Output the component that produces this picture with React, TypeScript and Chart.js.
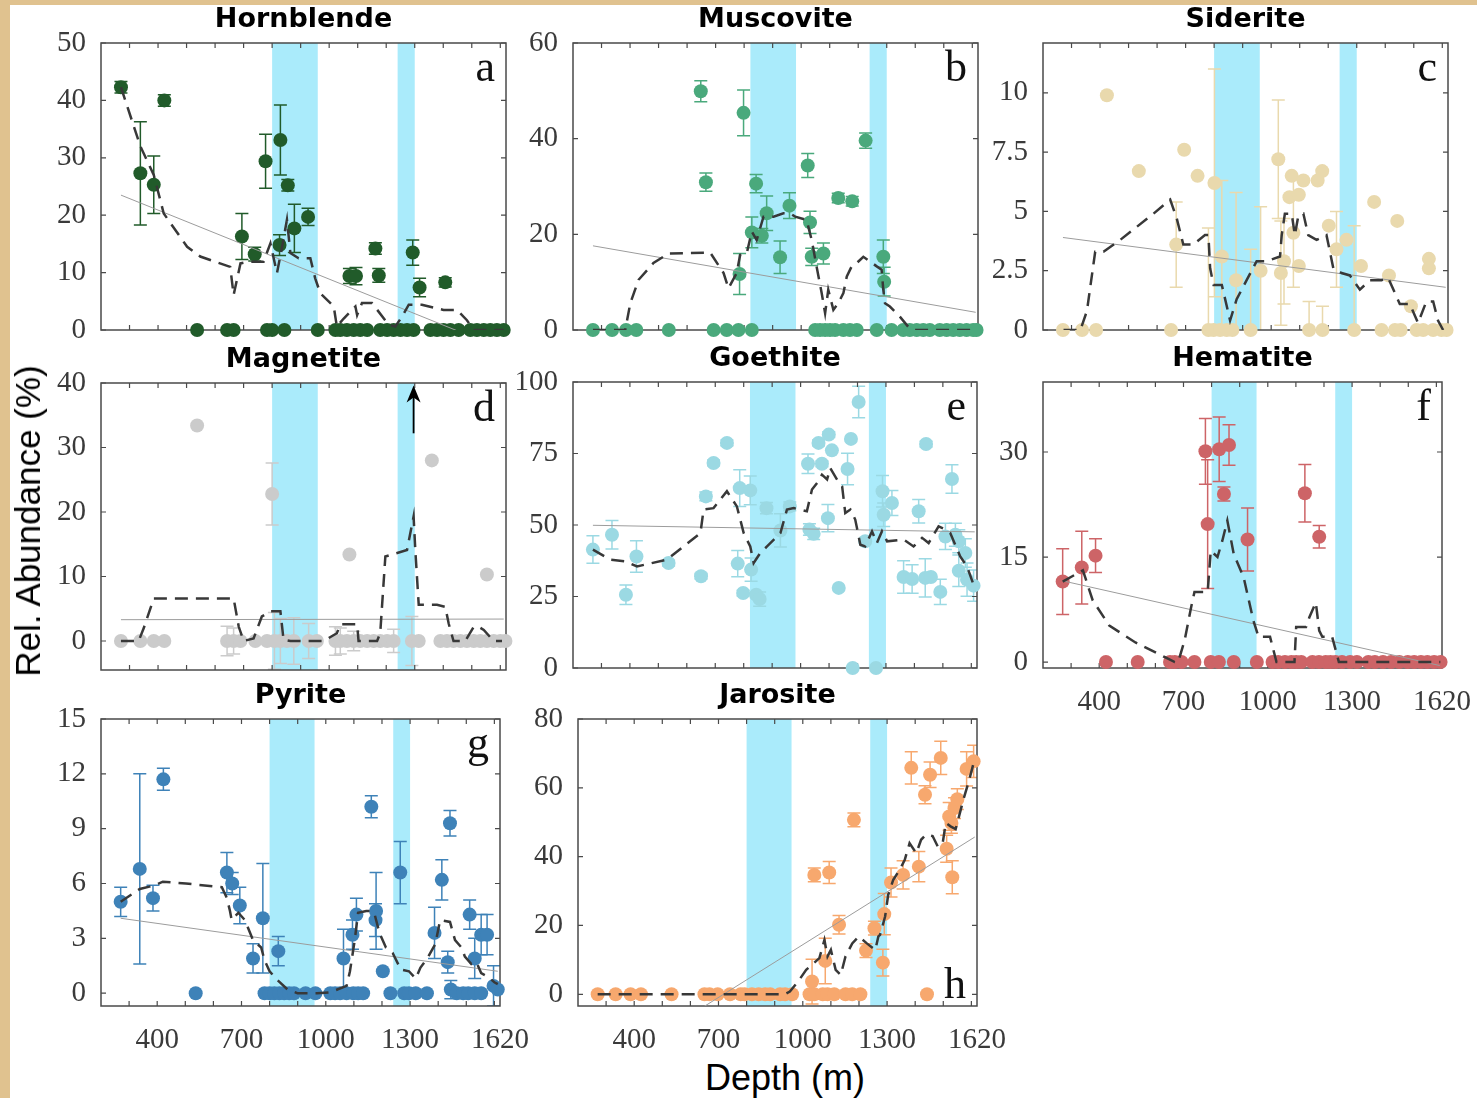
import React, { useEffect, useRef } from 'react';
import { Chart, registerables } from 'chart.js';
Chart.register(...registerables);

// ---------- shared axis data ----------
const X_MIN = 200;
const X_MAX = 1620;
const xTickLabels = [400, 700, 1000, 1300, 1620];
const xMinorTicks = [300, 400, 500, 600, 700, 800, 900, 1000, 1100, 1200, 1300, 1400, 1500, 1600];
const bandsMain = [[800, 960], [1240, 1300]];
const bandsShift = [[822, 982], [1240, 1300]];

// ---------- a: Hornblende ----------
const hbDepth = [270, 338, 385, 422, 537, 642, 665, 694, 739, 777, 782, 800, 826, 829, 843, 855, 878, 926, 960, 1022, 1039, 1062, 1071, 1086, 1094, 1109, 1133, 1162, 1174, 1179, 1203, 1226, 1250, 1273, 1293, 1296, 1317, 1355, 1378, 1401, 1407, 1425, 1454, 1495, 1518, 1542, 1565, 1588, 1612];
const hbValue = [42.3, 27.3, 25.3, 40.0, 0, 0, 0, 16.3, 13.2, 29.4, 0, 0, 14.8, 33.1, 0, 25.2, 17.7, 19.7, 0, 0, 0, 0, 9.4, 0, 9.4, 0, 0, 14.2, 9.5, 0, 0, 0, 0, 0, 13.5, 0, 7.4, 0, 0, 0, 8.3, 0, 0, 0, 0, 0, 0, 0, 0];
const hbErr = [1, 9, 5, 1, 0, 0, 0, 4, 1.2, 4.7, 0, 0, 1.8, 6.1, 0, 1, 4.2, 1.5, 0, 0, 0, 0, 1.3, 0, 1.5, 0, 0, 1, 1.2, 0, 0, 0, 0, 0, 2.2, 0, 1.6, 0, 0, 0, 0.8, 0, 0, 0, 0, 0, 0, 0, 0];
const hbMaDepth = [270, 338, 385, 420, 502, 548, 653, 665, 689, 718, 770, 794, 817, 835, 852, 864, 893, 934, 951, 969, 1016, 1027, 1051, 1092, 1098, 1115, 1150, 1209, 1232, 1255, 1279, 1325, 1401, 1448, 1483, 1507, 1612];
const hbMaValue = [42.3, 32.0, 27.0, 20.3, 14.5, 12.8, 11.0, 6.1, 11.6, 11.9, 11.9, 15.1, 9.9, 14.5, 19.2, 13.4, 12.5, 12.5, 9.0, 6.4, 4.1, 0.6, 2.0, 4.1, 2.6, 4.7, 4.7, 0.9, 0.6, 2.3, 4.4, 4.4, 3.5, 3.5, 1.7, 0, 0];
const hbTrendDepth = [270, 1612];
const hbTrendValue = [23.5, -3.4];
const hbYTicks = [0, 10, 20, 30, 40, 50];

// ---------- b: Muscovite ----------
const msDepth = [270, 337, 386, 422, 536, 648, 666, 693, 739, 780, 784, 798, 827, 827, 842, 862, 879, 926, 959, 1023, 1031, 1037, 1049, 1066, 1078, 1084, 1101, 1119, 1130, 1148, 1171, 1179, 1195, 1226, 1265, 1288, 1291, 1317, 1358, 1381, 1405, 1428, 1451, 1486, 1510, 1533, 1556, 1580, 1603, 1615];
const msValue = [0, 0, 0, 0, 0, 49.9, 30.9, 0, 0, 0, 11.7, 45.4, 0, 20.4, 30.6, 19.7, 24.4, 15.2, 26.0, 34.4, 22.5, 15.3, 0, 0, 16.0, 0, 0, 0, 27.6, 0, 0, 26.9, 0, 39.6, 0, 15.3, 10.1, 0, 0, 0, 0, 0, 0, 0, 0, 0, 0, 0, 0, 0];
const msErr = [0, 0, 0, 0, 0, 2.2, 1.9, 0, 0, 0, 4.3, 4.8, 0, 3.2, 1.9, 1.5, 3.6, 3.4, 2.7, 2.5, 2.3, 1.8, 0, 0, 2.2, 0, 0, 0, 1, 0, 0, 1, 0, 1.6, 0, 3.5, 3, 0, 0, 0, 0, 0, 0, 0, 0, 0, 0, 0, 0, 0];
const msMaDepth = [270, 331, 383, 401, 430, 482, 535, 681, 728, 745, 774, 786, 809, 827, 844, 868, 903, 938, 961, 979, 1019, 1037, 1054, 1072, 1084, 1095, 1113, 1130, 1148, 1160, 1177, 1195, 1218, 1235, 1265, 1282, 1288, 1294, 1311, 1346, 1375, 1393, 1615];
const msMaValue = [0, 0, 0, 5.6, 10.5, 14.0, 16.0, 16.2, 11.9, 8.7, 11.9, 15.7, 16.0, 20.6, 18.8, 23.7, 23.7, 24.4, 24.4, 23.7, 23.0, 18.8, 13.3, 7.7, 3.5, 8.4, 4.2, 5.6, 7.7, 11.2, 13.3, 14.0, 15.3, 14.6, 13.3, 12.6, 8.4, 5.6, 4.9, 2.8, 0.7, 0, 0];
const msTrendDepth = [270, 1612];
const msTrendValue = [17.6, 3.7];
const msYTicks = [0, 20, 40, 60];

// ---------- c: Siderite ----------
const sdDepth = [270, 337, 386, 424, 536, 649, 667, 695, 742, 780, 798, 801, 821, 827, 844, 864, 877, 928, 963, 1025, 1034, 1045, 1064, 1072, 1078, 1097, 1097, 1113, 1133, 1163, 1179, 1180, 1202, 1229, 1264, 1291, 1315, 1361, 1387, 1413, 1434, 1442, 1454, 1490, 1510, 1533, 1553, 1553, 1568, 1597, 1615];
const sdValue = [0, 0, 0, 9.9, 6.7, 0, 3.6, 7.6, 6.5, 0, 0, 6.2, 0, 3.1, 0, 0, 2.1, 0, 2.5, 7.2, 2.4, 2.9, 5.6, 6.5, 4.1, 5.7, 2.7, 6.3, 0, 6.3, 6.7, 0, 4.4, 3.4, 3.8, 0, 2.7, 5.4, 0, 2.3, 0, 4.6, 0, 1.0, 0, 0, 3.0, 2.6, 0, 0, 0];
const sdErr = [0, 0, 0, 0, 0, 0, 1.8, 0, 0, 4.3, 0, 4.8, 0, 3.2, 0, 0, 3.7, 3.4, 2.7, 2.5, 2.2, 1.8, 0, 0, 2.3, 0, 0, 0, 1.2, 0, 0, 1.0, 0, 1.6, 0, 4.4, 0, 0, 0, 0, 0, 0, 0, 0, 0, 0, 0, 0, 0, 0, 0];
const sdMaDepth = [272, 331, 354, 383, 412, 471, 587, 646, 669, 692, 727, 768, 780, 786, 798, 827, 856, 879, 914, 949, 984, 1031, 1037, 1048, 1072, 1083, 1095, 1113, 1130, 1159, 1194, 1218, 1247, 1276, 1311, 1346, 1387, 1410, 1451, 1486, 1515, 1544, 1568, 1585, 1603];
const sdMaValue = [0, 0, 0.8, 3.3, 3.3, 3.8, 4.9, 5.5, 4.7, 3.6, 3.6, 4.0, 4.0, 2.6, 1.9, 1.9, 0.4, 1.3, 2.1, 2.9, 2.9, 3.1, 4.0, 4.9, 4.9, 4.0, 4.8, 4.9, 4.0, 3.8, 4.0, 2.6, 2.4, 2.3, 1.7, 2.1, 2.1, 2.2, 1.1, 1.1, 0.3, 1.2, 1.2, 0.4, 0];
const sdTrendDepth = [270, 1612];
const sdTrendValue = [3.9, 1.8];
const sdYTicks = [0, 2.5, 5, 7.5, 10];

// ---------- d: Magnetite ----------
const mgDepth = [270, 338, 385, 422, 537, 642, 665, 689, 741, 782, 800, 808, 829, 852, 876, 928, 957, 1022, 1039, 1062, 1071, 1086, 1109, 1133, 1156, 1179, 1203, 1226, 1290, 1314, 1360, 1390, 1413, 1436, 1460, 1483, 1507, 1530, 1553, 1553, 1577, 1600, 1618];
const mgValue = [0, 0, 0, 0, 33.4, 0, 0, 0, 0, 0, 22.8, 0, 0, 0, 0, 0, 0, 0, 0, 0, 13.4, 0, 0, 0, 0, 0, 0, 0, 0, 0, 28.0, 0, 0, 0, 0, 0, 0, 0, 10.3, 0, 0, 0, 0];
const mgErr = [0, 0, 0, 0, 0, 2.3, 2.0, 0, 0, 0, 4.8, 4.4, 3.5, 0, 3.6, 2.7, 0, 2.2, 2.0, 0, 0, 1.5, 0, 0, 0, 0, 0, 1.8, 3.8, 0, 0, 0, 0, 0, 0, 0, 0, 0, 0, 0, 0, 0, 0];
const mgMaDepth = [270, 332, 350, 385, 665, 683, 700, 735, 764, 794, 829, 840, 864, 981, 1027, 1039, 1098, 1103, 1168, 1179, 1197, 1273, 1296, 1302, 1314, 1378, 1407, 1419, 1436, 1477, 1507, 1524, 1542, 1577, 1606];
const mgMaValue = [0, 0, 2.0, 6.6, 6.6, 2.2, 0, 0.4, 3.8, 4.6, 4.6, 0.2, 0, 0, 1.2, 2.6, 2.6, 0, 0, 1.2, 13.1, 14.1, 19.3, 14.1, 5.6, 5.6, 5.3, 2.7, 0, 0, 2.2, 2.2, 1.7, 0, 0];
const mgTrendDepth = [270, 1612];
const mgTrendValue = [3.3, 3.4];
const mgYTicks = [0, 10, 20, 30, 40];
const mgArrowDepth = 1296;
const mgArrowValue = [32.2, 39.6];

// ---------- e: Goethite ----------
const gtDepth = [270, 337, 386, 423, 536, 650, 667, 694, 741, 786, 779, 798, 823, 826, 844, 856, 880, 929, 962, 1026, 1031, 1046, 1063, 1075, 1099, 1096, 1110, 1134, 1165, 1177, 1183, 1204, 1227, 1265, 1288, 1292, 1321, 1362, 1392, 1415, 1438, 1458, 1441, 1491, 1509, 1532, 1544, 1556, 1556, 1579, 1585, 1608];
const gtValue = [41.4, 46.6, 25.6, 39.0, 36.7, 32.1, 60.0, 71.7, 78.7, 62.9, 36.5, 26.2, 62.1, 34.4, 25.6, 24.1, 55.9, 48.1, 56.5, 71.4, 48.4, 46.9, 78.7, 71.4, 81.6, 52.4, 76.1, 28.0, 69.6, 80.1, 0, 93.0, 44.3, 0, 61.8, 53.6, 57.7, 31.8, 31.1, 54.8, 31.5, 31.8, 78.3, 26.6, 46.0, 66.1, 46.6, 44.3, 34.0, 40.2, 30.9, 28.8];
const gtErr = [4.8, 5, 3.4, 5.5, 1, 1, 1.5, 1, 1, 6.4, 4.6, 1, 5, 4.1, 1, 2.5, 2, 5.8, 1.5, 3.4, 2, 2, 1, 1, 1, 4.8, 0, 0, 5.5, 0, 0, 5.5, 0, 0, 5.5, 4.1, 4.4, 5.7, 5, 4.1, 6.7, 0, 1, 4.4, 4.6, 5, 4, 4, 5.5, 5, 5.8, 5.5];
const gtMaDepth = [270, 331, 384, 425, 530, 648, 659, 694, 741, 776, 800, 823, 835, 858, 882, 929, 952, 976, 1022, 1040, 1058, 1075, 1093, 1104, 1128, 1146, 1157, 1175, 1192, 1210, 1227, 1251, 1268, 1286, 1304, 1362, 1397, 1427, 1450, 1485, 1509, 1526, 1561, 1585, 1608];
const gtMaValue = [41.4, 37.9, 37.3, 35.5, 37.9, 47.2, 55.4, 55.9, 61.8, 56.5, 47.2, 42.5, 36.7, 40.2, 42.5, 47.2, 55.4, 55.9, 54.8, 62.4, 64.7, 67.6, 65.9, 69.9, 65.9, 63.5, 54.2, 55.4, 51.9, 43.1, 42.5, 47.8, 43.7, 47.8, 44.3, 44.9, 42.5, 45.5, 43.7, 49.5, 48.4, 47.2, 39.0, 35.5, 29.1];
const gtTrendDepth = [270, 1612];
const gtTrendValue = [49.9, 47.6];
const gtYTicks = [0, 25, 50, 75, 100];

// ---------- f: Hematite ----------
const hmDepth = [270, 338, 387, 424, 537, 652, 669, 693, 739, 778, 786, 797, 826, 827, 844, 862, 879, 928, 961, 1017, 1037, 1061, 1084, 1101, 1119, 1132, 1159, 1182, 1183, 1206, 1223, 1241, 1264, 1293, 1317, 1358, 1381, 1410, 1439, 1468, 1498, 1521, 1545, 1568, 1592, 1615];
const hmValue = [11.5, 13.5, 15.2, 0, 0, 0, 0, 0, 0, 30.1, 19.7, 0, 0, 30.4, 24.0, 31.0, 0, 17.5, 0, 0, 0, 0, 0, 0, 0, 24.1, 0, 0, 17.9, 0, 0, 0, 0, 0, 0, 0, 0, 0, 0, 0, 0, 0, 0, 0, 0, 0];
const hmErr = [4.7, 5.2, 2.4, 0, 0, 0, 0, 0, 0, 4.7, 9.2, 0, 0, 4.6, 1, 2.9, 0, 4.5, 0, 0, 0, 0, 0, 0, 0, 4.1, 0, 0, 1.6, 0, 0, 0, 0, 0, 0, 0, 0, 0, 0, 0, 0, 0, 0, 0, 0, 0];
const hmMaDepth = [270, 342, 377, 436, 529, 634, 669, 681, 704, 727, 739, 786, 797, 821, 838, 856, 879, 914, 949, 967, 1008, 1031, 1095, 1101, 1136, 1148, 1171, 1183, 1194, 1229, 1253, 1614];
const hmMaValue = [11.5, 13.1, 8.8, 5.2, 2.8, 0.7, 0, 0, 3.1, 7.8, 10.0, 10.0, 15.9, 15.0, 17.3, 20.2, 15.4, 12.1, 5.9, 3.6, 3.6, 0, 0, 5.0, 5.0, 6.4, 8.5, 4.5, 3.6, 3.6, 0, 0];
const hmTrendDepth = [270, 1612];
const hmTrendValue = [11.6, -0.5];
const hmYTicks = [0, 15, 30];

// ---------- g: Pyrite ----------
const pyDepth = [270, 338, 385, 422, 537, 648, 667, 694, 741, 776, 782, 800, 817, 831, 835, 852, 870, 887, 928, 963, 1016, 1033, 1051, 1063, 1074, 1095, 1098, 1109, 1115, 1133, 1162, 1177, 1179, 1203, 1230, 1265, 1279, 1296, 1320, 1360, 1387, 1413, 1434, 1442, 1445, 1466, 1489, 1507, 1512, 1530, 1530, 1553, 1553, 1574, 1597, 1612];
const pyValue = [5.0, 6.8, 5.2, 11.7, 0, 6.6, 6.0, 4.8, 1.9, 4.1, 0, 0, 0, 2.3, 0, 0, 0, 0, 0, 0, 0, 0, 0, 1.9, 0, 3.2, 0, 4.3, 0, 0, 10.2, 4.0, 4.5, 1.2, 0, 6.6, 0, 0, 0, 0, 3.3, 6.2, 1.7, 9.3, 0.2, 0, 0, 0, 4.3, 1.9, 0, 3.2, 0, 3.2, 0.4, 0.2];
const pyErr = [0.8, 5.2, 0.7, 0.6, 0, 1.1, 0.6, 1, 0.8, 3, 0, 0, 0, 0.8, 0, 0, 0, 0, 0, 0, 0, 0, 0, 1.6, 0, 0.8, 0, 0.9, 0, 0, 0.6, 0.9, 2.1, 0, 0, 1.7, 0, 0, 0, 0, 1.4, 1.1, 0.6, 0.7, 0.5, 0, 0, 0, 0.8, 1.1, 0, 1.1, 0, 1.1, 1.1, 0];
const pyMaDepth = [270, 338, 391, 420, 502, 630, 648, 659, 665, 689, 712, 741, 770, 782, 800, 829, 864, 899, 969, 1016, 1074, 1086, 1103, 1115, 1144, 1162, 1174, 1191, 1214, 1238, 1267, 1296, 1320, 1337, 1361, 1390, 1407, 1442, 1460, 1483, 1495, 1518, 1536, 1553, 1577, 1600, 1612];
const pyMaValue = [5.0, 5.7, 5.9, 6.1, 6.0, 5.8, 5.2, 4.5, 4.0, 4.4, 4.0, 2.9, 2.5, 1.8, 1.2, 0.7, 0.2, 0, 0, 0.05, 0.4, 1.2, 2.9, 4.4, 4.5, 4.5, 4.3, 3.3, 2.5, 2.2, 1.3, 1.2, 0.8, 1.4, 1.9, 2.7, 4.0, 3.9, 2.9, 2.5, 2.0, 1.6, 1.7, 1.1, 0.9, 0.6, 0.5];
const pyTrendDepth = [270, 1612];
const pyTrendValue = [4.1, 1.2];
const pyYTicks = [0, 3, 6, 9, 12, 15];

// ---------- h: Jarosite ----------
const jrDepth = [270, 334, 387, 424, 533, 650, 668, 697, 741, 779, 793, 819, 843, 866, 884, 919, 937, 962, 1024, 1033, 1041, 1041, 1071, 1080, 1088, 1094, 1112, 1129, 1152, 1176, 1182, 1205, 1225, 1255, 1285, 1290, 1314, 1357, 1386, 1413, 1435, 1442, 1453, 1491, 1512, 1521, 1529, 1532, 1540, 1550, 1583, 1608];
const jrValue = [0, 0, 0, 0, 0, 0, 0, 0, 0, 0, 0, 0, 0, 0, 0, 0, 0, 0, 0, 3.7, 34.7, 0, 0, 9.7, 0, 35.4, 0, 20.2, 0, 0, 50.7, 0, 12.7, 19.2, 9.2, 23.3, 32.5, 34.7, 65.8, 37.1, 58.0, 0, 63.8, 68.7, 42.3, 51.7, 49.8, 34.0, 54.1, 56.7, 65.5, 67.7];
const jrErr = [0, 0, 0, 0, 0, 0, 0, 0, 0, 0, 0, 0, 0, 0, 0, 0, 0, 0, 0, 6.5, 2, 0, 0, 6.6, 0, 3.2, 0, 2.7, 0, 0, 2, 0, 2, 2, 3.9, 6, 4.2, 4.1, 4.7, 4.4, 2.6, 0, 3.7, 4.8, 3.9, 4, 3, 4.8, 3, 3, 5, 4.7];
const jrMaDepth = [270, 936, 954, 983, 1012, 1059, 1077, 1088, 1100, 1117, 1135, 1152, 1176, 1199, 1228, 1258, 1269, 1275, 1293, 1304, 1322, 1345, 1363, 1380, 1404, 1421, 1439, 1462, 1480, 1497, 1509, 1526, 1544, 1556, 1573, 1591, 1608];
const jrMaValue = [0, 0, 0.8, 3.7, 7.1, 10.5, 15.8, 11.0, 12.9, 7.1, 5.6, 11.0, 14.8, 16.8, 14.8, 12.9, 16.8, 17.3, 22.6, 28.9, 33.3, 36.2, 39.1, 43.9, 41.0, 44.9, 46.4, 46.0, 43.0, 43.5, 49.8, 48.8, 48.0, 51.7, 57.0, 61.9, 67.2];
const jrTrendDepth = [270, 1612];
const jrTrendValue = [-22.9, 45.7];
const jrYTicks = [0, 20, 40, 60, 80];

// ---------- styles ----------
const BAND_COLOR = '#aaebfb';
const MA_COLOR = '#383838';
const TREND_COLOR = '#9c9c9c';
const BOX_COLOR = '#4a4a4a';
const TICK_FONT = { family: '"Liberation Serif", "DejaVu Serif", serif', size: 29 };
const TICK_COLOR = '#3a3a3a';
const Y_AXIS_W = 70;
const TOP_SPACE = 45;
const RIGHT_SPACE = 40;

type PanelCfg = {
  title: string; letter: string; letterBottom?: boolean; color: string;
  depth: number[]; value: number[]; err: number[];
  maDepth: number[]; maValue: number[];
  trendDepth: number[]; trendValue: number[];
  yMin: number; yMax: number; yTicks: number[];
  bands: number[][]; showX: boolean;
  rect: { L: number; T: number; R: number; B: number };
  arrow?: { depth: number; values: number[] };
};

const panels: PanelCfg[] = [
  { title: 'Hornblende', letter: 'a', color: '#215b2a', depth: hbDepth, value: hbValue, err: hbErr, maDepth: hbMaDepth, maValue: hbMaValue, trendDepth: hbTrendDepth, trendValue: hbTrendValue, yMin: 0, yMax: 50, yTicks: hbYTicks, bands: bandsMain, showX: false, rect: { L: 101, T: 43, R: 506, B: 330 } },
  { title: 'Muscovite', letter: 'b', color: '#4aa97c', depth: msDepth, value: msValue, err: msErr, maDepth: msMaDepth, maValue: msMaValue, trendDepth: msTrendDepth, trendValue: msTrendValue, yMin: 0, yMax: 60, yTicks: msYTicks, bands: bandsShift, showX: false, rect: { L: 573, T: 43, R: 978, B: 330 } },
  { title: 'Siderite', letter: 'c', color: '#e9d9ad', depth: sdDepth, value: sdValue, err: sdErr, maDepth: sdMaDepth, maValue: sdMaValue, trendDepth: sdTrendDepth, trendValue: sdTrendValue, yMin: 0, yMax: 12.1, yTicks: sdYTicks, bands: bandsMain, showX: false, rect: { L: 1043, T: 43, R: 1448, B: 330 } },
  { title: 'Magnetite', letter: 'd', color: '#cbcbcb', depth: mgDepth, value: mgValue, err: mgErr, maDepth: mgMaDepth, maValue: mgMaValue, trendDepth: mgTrendDepth, trendValue: mgTrendValue, yMin: -4.5, yMax: 40, yTicks: mgYTicks, bands: bandsMain, showX: false, rect: { L: 101, T: 383, R: 506, B: 670 }, arrow: { depth: mgArrowDepth, values: mgArrowValue } },
  { title: 'Goethite', letter: 'e', color: '#9bd9e3', depth: gtDepth, value: gtValue, err: gtErr, maDepth: gtMaDepth, maValue: gtMaValue, trendDepth: gtTrendDepth, trendValue: gtTrendValue, yMin: 0, yMax: 100, yTicks: gtYTicks, bands: bandsShift, showX: false, rect: { L: 573, T: 382, R: 977, B: 668 } },
  { title: 'Hematite', letter: 'f', color: '#cd6467', depth: hmDepth, value: hmValue, err: hmErr, maDepth: hmMaDepth, maValue: hmMaValue, trendDepth: hmTrendDepth, trendValue: hmTrendValue, yMin: -0.85, yMax: 40, yTicks: hmYTicks, bands: bandsMain, showX: true, rect: { L: 1043, T: 382, R: 1448, B: 668 } },
  { title: 'Pyrite', letter: 'g', color: '#3e82b8', depth: pyDepth, value: pyValue, err: pyErr, maDepth: pyMaDepth, maValue: pyMaValue, trendDepth: pyTrendDepth, trendValue: pyTrendValue, yMin: -0.7, yMax: 15, yTicks: pyYTicks, bands: bandsMain, showX: true, rect: { L: 101, T: 719, R: 506, B: 1006 } },
  { title: 'Jarosite', letter: 'h', letterBottom: true, color: '#f7a86e', depth: jrDepth, value: jrValue, err: jrErr, maDepth: jrMaDepth, maValue: jrMaValue, trendDepth: jrTrendDepth, trendValue: jrTrendValue, yMin: -3.4, yMax: 80, yTicks: jrYTicks, bands: bandsMain, showX: true, rect: { L: 578, T: 719, R: 983, B: 1006 } },
];

const decorPlugin = {
  id: 'panelDecor',
  beforeDatasetsDraw(chart: any, _args: any, opts: any) {
    const p: PanelCfg = opts.panel;
    const { ctx, chartArea: ca } = chart;
    const x = chart.scales.x, y = chart.scales.y;
    ctx.save();
    ctx.fillStyle = BAND_COLOR;
    for (const [a, b] of p.bands) {
      const x0 = x.getPixelForValue(a), x1 = x.getPixelForValue(b);
      ctx.fillRect(x0, ca.top, x1 - x0, ca.bottom - ca.top);
    }
    ctx.save();
    ctx.beginPath();
    ctx.rect(ca.left, ca.top, ca.right - ca.left, ca.bottom - ca.top);
    ctx.clip();
    ctx.strokeStyle = p.color;
    ctx.lineWidth = 1.5;
    p.depth.forEach((d, i) => {
      const e = p.err[i];
      if (!e) return;
      const px = x.getPixelForValue(d);
      const y0 = y.getPixelForValue(p.value[i] - e);
      const y1 = y.getPixelForValue(p.value[i] + e);
      ctx.beginPath();
      ctx.moveTo(px, y0); ctx.lineTo(px, y1);
      ctx.moveTo(px - 6.5, y0); ctx.lineTo(px + 6.5, y0);
      ctx.moveTo(px - 6.5, y1); ctx.lineTo(px + 6.5, y1);
      ctx.stroke();
    });
    ctx.restore();
    ctx.strokeStyle = BOX_COLOR;
    ctx.lineWidth = 1.5;
    ctx.strokeRect(ca.left, ca.top, ca.right - ca.left, ca.bottom - ca.top);
    ctx.lineWidth = 1.2;
    ctx.beginPath();
    for (const t of xMinorTicks) {
      const px = x.getPixelForValue(t);
      ctx.moveTo(px, ca.bottom); ctx.lineTo(px, ca.bottom - 5);
      ctx.moveTo(px, ca.top); ctx.lineTo(px, ca.top + 5);
    }
    for (const t of p.yTicks) {
      const py = y.getPixelForValue(t);
      ctx.moveTo(ca.left, py); ctx.lineTo(ca.left + 5, py);
      ctx.moveTo(ca.right, py); ctx.lineTo(ca.right - 5, py);
    }
    ctx.stroke();
    ctx.restore();
  },
  afterDraw(chart: any, _args: any, opts: any) {
    const p: PanelCfg = opts.panel;
    const { ctx, chartArea: ca } = chart;
    const x = chart.scales.x, y = chart.scales.y;
    ctx.save();
    ctx.fillStyle = '#000';
    ctx.font = 'bold 27px "DejaVu Sans", sans-serif';
    ctx.textAlign = 'center';
    ctx.textBaseline = 'middle';
    ctx.fillText(p.title, (ca.left + ca.right) / 2, ca.top - 23);
    ctx.font = '44px "Liberation Serif", serif';
    ctx.textAlign = 'right';
    ctx.textBaseline = 'alphabetic';
    ctx.fillStyle = '#111';
    ctx.fillText(p.letter, ca.right - 11, p.letterBottom ? ca.bottom - 8 : ca.top + 38);
    if (p.arrow) {
      const px = x.getPixelForValue(p.arrow.depth);
      const yA = y.getPixelForValue(p.arrow.values[0]);
      const yB = y.getPixelForValue(p.arrow.values[1]);
      ctx.strokeStyle = '#000';
      ctx.lineWidth = 1.8;
      ctx.beginPath();
      ctx.moveTo(px, yA); ctx.lineTo(px, yB + 10);
      ctx.stroke();
      ctx.beginPath();
      ctx.moveTo(px, yB);
      ctx.lineTo(px - 7, yB + 17);
      ctx.lineTo(px, yB + 12);
      ctx.lineTo(px + 7, yB + 17);
      ctx.closePath();
      ctx.fillStyle = '#000';
      ctx.fill();
    }
    ctx.restore();
  },
};

function Panel({ p }: { p: PanelCfg }) {
  const ref = useRef<HTMLCanvasElement | null>(null);
  const plotW = p.rect.R - p.rect.L;
  const plotH = p.rect.B - p.rect.T;
  const xH = p.showX ? 50 : 40;
  const W = Y_AXIS_W + plotW + RIGHT_SPACE;
  const H = TOP_SPACE + plotH + xH;

  useEffect(() => {
    if (!ref.current) return;
    const chart = new Chart(ref.current, {
      type: 'scatter',
      data: {
        datasets: [
          {
            type: 'line',
            data: p.maDepth.map((d, i) => ({ x: d, y: p.maValue[i] })),
            borderColor: MA_COLOR,
            borderWidth: 2.5,
            borderDash: [13, 8],
            pointRadius: 0,
            tension: 0,
            fill: false,
            order: 1,
          } as any,
          {
            type: 'line',
            data: p.trendDepth.map((d, i) => ({ x: d, y: p.trendValue[i] })),
            borderColor: TREND_COLOR,
            borderWidth: 1,
            pointRadius: 0,
            tension: 0,
            fill: false,
            order: 2,
          } as any,
          {
            type: 'scatter',
            data: p.depth.map((d, i) => ({ x: d, y: p.value[i] })),
            backgroundColor: p.color,
            pointBackgroundColor: p.color,
            pointBorderWidth: 0,
            pointRadius: 7,
            pointHoverRadius: 7,
            clip: false as any,
            order: 3,
          } as any,
        ],
      },
      options: {
        animation: false,
        responsive: false,
        events: [],
        layout: { padding: { top: TOP_SPACE, right: RIGHT_SPACE, left: 0, bottom: 0 }, autoPadding: false } as any,
        plugins: {
          legend: { display: false },
          tooltip: { enabled: false },
          title: { display: false },
          panelDecor: { panel: p },
        } as any,
        scales: {
          x: {
            type: 'linear',
            min: X_MIN,
            max: X_MAX,
            grid: { display: false, drawTicks: false },
            border: { display: false },
            ticks: {
              display: p.showX,
              font: TICK_FONT,
              color: TICK_COLOR,
              padding: 17,
              autoSkip: false,
              maxRotation: 0,
              minRotation: 0,
              callback: (v: any) => String(v),
            },
            afterBuildTicks: (s: any) => { s.ticks = xTickLabels.map((v) => ({ value: v })); },
            afterFit: (s: any) => { s.height = xH; },
          },
          y: {
            type: 'linear',
            min: p.yMin,
            max: p.yMax,
            grid: { display: false, drawTicks: false },
            border: { display: false },
            ticks: {
              font: TICK_FONT,
              color: TICK_COLOR,
              padding: 15,
              autoSkip: false,
              callback: (v: any) => String(v),
            },
            afterBuildTicks: (s: any) => { s.ticks = p.yTicks.map((v) => ({ value: v })); },
            afterFit: (s: any) => { s.width = Y_AXIS_W; },
          },
        },
      } as any,
      plugins: [decorPlugin as any],
    });
    return () => chart.destroy();
  }, []);

  return (
    <canvas
      ref={ref}
      width={W}
      height={H}
      style={{ position: 'absolute', left: p.rect.L - Y_AXIS_W, top: p.rect.T - TOP_SPACE, width: W, height: H }}
    />
  );
}

export default function App() {
  return (
    <div style={{ position: 'absolute', left: 0, top: 0, width: 1477, height: 1098, background: '#e0c28f', overflow: 'hidden' }}>
      <div style={{ position: 'absolute', left: 10, top: 5, width: 1467, height: 1093, background: '#ffffff' }} />
      {panels.map((p) => (
        <Panel key={p.title} p={p} />
      ))}
      <div
        style={{
          position: 'absolute', left: 28, top: 521, transform: 'translate(-50%, -50%) rotate(-90deg)',
          fontFamily: '"Liberation Sans", Arial, sans-serif', fontSize: 35, whiteSpace: 'nowrap', color: '#000',
        }}
      >
        Rel. Abundance (%)
      </div>
      <div
        style={{
          position: 'absolute', left: 785, top: 1078, transform: 'translate(-50%, -50%)',
          fontFamily: '"Liberation Sans", Arial, sans-serif', fontSize: 36, whiteSpace: 'nowrap', color: '#000',
        }}
      >
        Depth (m)
      </div>
    </div>
  );
}
